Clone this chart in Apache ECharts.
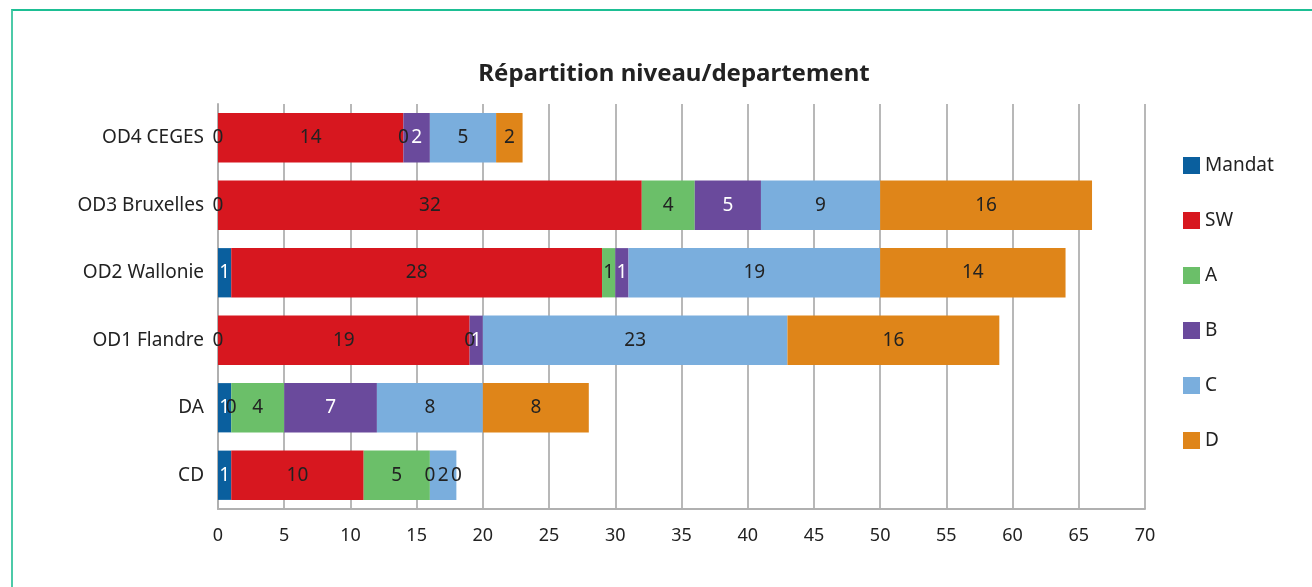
<!DOCTYPE html>
<html>
<head>
<meta charset="utf-8">
<script src="https://cdn.jsdelivr.net/npm/echarts@6/dist/echarts.min.js"></script>
<style>
  html, body { margin: 0; padding: 0; background: #fff; }
  #frame { position: absolute; left: 11px; top: 9px; width: 1400px; height: 700px;
           border-left: 2px solid #4ccaa8; border-top: 2px solid #1dbf94; box-sizing: border-box; }
  #main { position: absolute; left: 0; top: 0; width: 1312px; height: 587px; }
</style>
</head>
<body>
<div id="frame"></div>
<div id="main"></div>
<script>
var categories = ['CD', 'DA', 'OD1 Flandre', 'OD2 Wallonie', 'OD3 Bruxelles', 'OD4 CEGES'];
var mandat = [1, 1, 0, 1, 0, 0];
var sw = [10, 0, 19, 28, 32, 14];
var a = [5, 4, 0, 1, 4, 0];
var b = [0, 7, 1, 1, 5, 2];
var c = [2, 8, 23, 19, 9, 5];
var d = [0, 8, 16, 14, 16, 2];

var FONT = 'Noto Sans';
var DARK = '#222';

var chartDom = document.getElementById('main');
var myChart = echarts.init(chartDom);

function makeSeries(name, data, color, textColor) {
  return {
    name: name,
    type: 'bar',
    stack: 'total',
    barCategoryGap: '27%',
    // zero segments have no fill, so their label goes dark like the others
    data: data.map(function (v) {
      return v === 0 ? { value: v, label: { color: DARK } } : v;
    }),
    itemStyle: { color: color },
    label: {
      show: true,
      position: 'inside',
      color: textColor,
      fontFamily: FONT,
      fontSize: 19
    }
  };
}

var option = {
  animation: false,
  title: {
    text: 'Répartition niveau/departement',
    left: 669,
    top: 57,
    textAlign: 'center',
    textStyle: { fontFamily: FONT, fontSize: 24, fontWeight: 'bold', color: DARK }
  },
  legend: {
    orient: 'vertical',
    left: 1178,
    top: 151,
    itemWidth: 17,
    itemHeight: 17,
    itemGap: 36,
    icon: 'rect',
    textStyle: { fontFamily: FONT, fontSize: 19, color: DARK }
  },
  grid: { left: 218, right: 167, top: 104, bottom: 78 },
  xAxis: {
    type: 'value',
    min: 0,
    max: 70,
    interval: 5,
    axisLine: { show: true, lineStyle: { color: '#b0b0b0', width: 2 } },
    axisTick: { show: false },
    splitLine: { show: true, lineStyle: { color: '#b8b8b8', width: 2 } },
    axisLabel: { fontFamily: FONT, fontSize: 18, color: DARK, margin: 18 }
  },
  yAxis: {
    type: 'category',
    data: categories,
    axisLine: { show: true, lineStyle: { color: '#b0b0b0', width: 2 } },
    axisTick: { show: false },
    axisLabel: { fontFamily: FONT, fontSize: 19, color: DARK, margin: 14 }
  },
  series: [
    makeSeries('Mandat', mandat, '#0a5f9e', '#fff'),
    makeSeries('SW', sw, '#d7171f', DARK),
    makeSeries('A', a, '#6bbf69', DARK),
    makeSeries('B', b, '#6a4a9c', '#fff'),
    makeSeries('C', c, '#7aaedd', DARK),
    makeSeries('D', d, '#df8519', DARK)
  ]
};

myChart.setOption(option);
</script>
</body>
</html>
